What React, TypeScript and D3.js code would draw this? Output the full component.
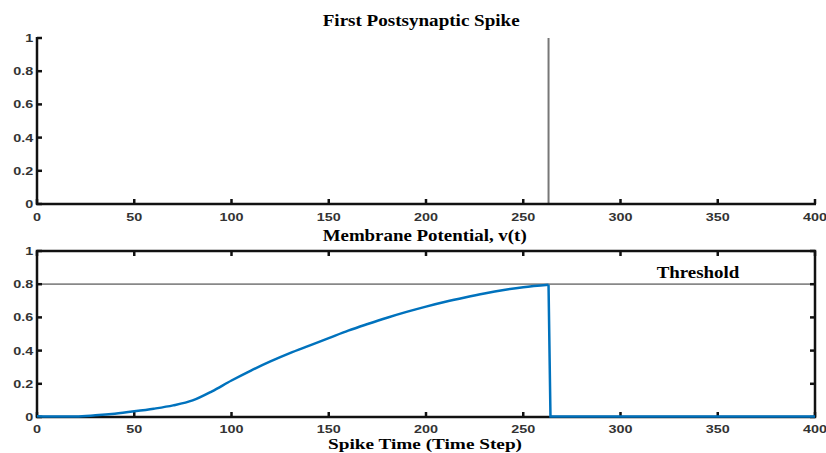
import React from "react";
import * as d3 from "d3";

const xTicks = [0, 50, 100, 150, 200, 250, 300, 350, 400];
const yTicks = [0, 0.2, 0.4, 0.6, 0.8, 1];
const yTickLabels = ["0", "0.2", "0.4", "0.6", "0.8", "1"];
const spikeTime = [263];
const threshold = 0.8;
const vTime = [0, 10, 20, 30, 40, 50, 60, 70, 80, 90, 100, 110, 120, 130, 140, 150, 160, 170, 180, 190, 200, 210, 220, 230, 240, 250, 263, 264, 400];
const vValue = [0.004, 0.003, 0.003, 0.01, 0.02, 0.034, 0.05, 0.07, 0.1, 0.155, 0.22, 0.28, 0.335, 0.385, 0.43, 0.475, 0.52, 0.56, 0.598, 0.633, 0.665, 0.694, 0.72, 0.744, 0.765, 0.782, 0.797, 0.003, 0.003];

const W = 826, H = 453;
const X0 = 37, X1 = 815;
const top = { y0: 204, y1: 38 };
const bot = { y0: 417, y1: 251 };
const SX = 1.25;

const tickFont: React.CSSProperties = { fontFamily: "Liberation Sans, Arial, sans-serif", fontWeight: 700, fontSize: 11.5, fill: "#333" };
const titleFont: React.CSSProperties = { fontFamily: "Liberation Serif, Times New Roman, serif", fontWeight: 700, fontSize: 16, fill: "#000" };

function TickLabel({ x, y, anchor, children }: { x: number; y: number; anchor: "start" | "middle" | "end"; children: React.ReactNode }) {
  return (
    <g transform={`translate(${x},${y}) scale(${SX},1)`}>
      <text x={0} y={0} textAnchor={anchor} style={tickFont}>{children}</text>
    </g>
  );
}

export default function App() {
  const x = d3.scaleLinear().domain([0, 400]).range([X0, X1]);
  const yTop = d3.scaleLinear().domain([0, 1]).range([top.y0, top.y1]);
  const yBot = d3.scaleLinear().domain([0, 1]).range([bot.y0, bot.y1]);
  const risePath = d3.line<number>().x((_, i) => x(vTime[i])).y((d) => yBot(d)).curve(d3.curveMonotoneX)(vValue.slice(0, 27)) || "";
  const dropPath = d3.line<[number, number]>().x((d) => x(d[0])).y((d) => yBot(d[1]))(
    vTime.slice(26).map((t, i) => [t, vValue[26 + i]] as [number, number])
  ) || "";
  const tl = 5;
  return (
    <svg width={W} height={H} style={{ position: "absolute", left: 0, top: 0, background: "#fff" }}>
      {/* Top panel */}
      <text x={322.7} y={26} textLength={197} lengthAdjust="spacingAndGlyphs" style={titleFont}>First Postsynaptic Spike</text>
      {spikeTime.map((s) => (
        <line key={s} x1={x(s)} x2={x(s)} y1={yTop(0)} y2={yTop(1)} stroke="#777" strokeWidth={2} />
      ))}
      <line x1={X0} x2={X0} y1={yTop(1) - 1} y2={yTop(0) + 1} stroke="#111" strokeWidth={2.5} />
      <line x1={X0 - 1} x2={X1 + 1} y1={yTop(0)} y2={yTop(0)} stroke="#111" strokeWidth={2.5} />
      {xTicks.map((t) => (
        <g key={"tx" + t}>
          <line x1={x(t)} x2={x(t)} y1={yTop(0)} y2={yTop(0) - tl} stroke="#111" strokeWidth={2.5} />
          <TickLabel x={x(t)} y={yTop(0) + 16.7} anchor="middle">{t}</TickLabel>
        </g>
      ))}
      {yTicks.map((t, i) => (
        <g key={"ty" + t}>
          <line x1={X0} x2={X0 + tl} y1={yTop(t)} y2={yTop(t)} stroke="#111" strokeWidth={2.5} />
          <TickLabel x={X0 - 3.7} y={yTop(t) + 4} anchor="end">{yTickLabels[i]}</TickLabel>
        </g>
      ))}

      {/* Bottom panel */}
      <text x={322.7} y={240.5} textLength={204} lengthAdjust="spacingAndGlyphs" style={titleFont}>Membrane Potential, v(t)</text>
      <line x1={X0} x2={X1} y1={yBot(threshold)} y2={yBot(threshold)} stroke="#888" strokeWidth={1.8} />
      <text x={656.7} y={278} textLength={82.6} lengthAdjust="spacingAndGlyphs" style={titleFont}>Threshold</text>
      <rect x={X0} y={bot.y1} width={X1 - X0} height={bot.y0 - bot.y1} fill="none" stroke="#111" strokeWidth={2.5} />
      {xTicks.map((t) => (
        <g key={"bx" + t}>
          <line x1={x(t)} x2={x(t)} y1={yBot(0)} y2={yBot(0) - tl} stroke="#111" strokeWidth={2.5} />
          <line x1={x(t)} x2={x(t)} y1={yBot(1)} y2={yBot(1) + tl} stroke="#111" strokeWidth={2.5} />
          <TickLabel x={x(t)} y={yBot(0) + 15.5} anchor="middle">{t}</TickLabel>
        </g>
      ))}
      {yTicks.map((t, i) => (
        <g key={"by" + t}>
          <line x1={X0} x2={X0 + tl} y1={yBot(t)} y2={yBot(t)} stroke="#111" strokeWidth={2.5} />
          <line x1={X1} x2={X1 - tl} y1={yBot(t)} y2={yBot(t)} stroke="#111" strokeWidth={2.5} />
          <TickLabel x={X0 - 3.7} y={yBot(t) + 4} anchor="end">{yTickLabels[i]}</TickLabel>
        </g>
      ))}
      <path d={risePath} fill="none" stroke="#0072BD" strokeWidth={2.5} />
      <path d={dropPath} fill="none" stroke="#0072BD" strokeWidth={2.5} />
      <text x={328} y={448.5} textLength={194} lengthAdjust="spacingAndGlyphs" style={{ ...titleFont, fontSize: 14.5 }}>Spike Time (Time Step)</text>
    </svg>
  );
}
